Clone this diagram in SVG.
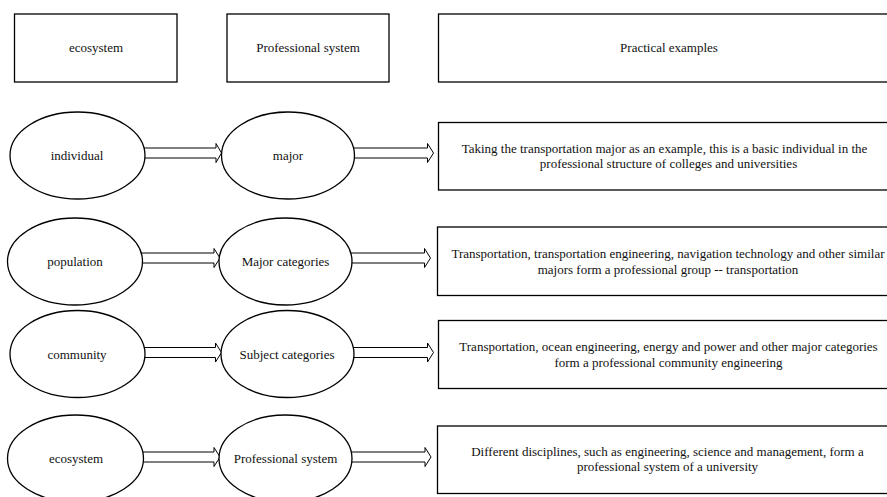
<svg xmlns="http://www.w3.org/2000/svg" width="887" height="497" viewBox="0 0 887 497">
<style>
  .box { fill: #fff; stroke: #000; stroke-width: 1.3; }
  .ell { fill: #fff; stroke: #000; stroke-width: 1.3; }
  .arr { fill: #fff; stroke: #000; stroke-width: 1; stroke-linejoin: miter; }
  text { font-family: 'Liberation Serif', 'Times New Roman', Times, serif; font-size: 13px; fill: #111; text-anchor: middle; }
</style>
<rect width="887" height="497" fill="#fff"/>
<g id="connectors">
  <polygon class="arr" points="135,148 216,148 216,143.5 221.5,153 216,162.5 216,158 135,158"/>
  <polygon class="arr" points="345,148 427.5,148 427.5,143.5 433.5,153 427.5,162.5 427.5,158 345,158"/>
  <polygon class="arr" points="133,253 214,253 214,248.5 220,258 214,267.5 214,263 133,263"/>
  <polygon class="arr" points="343,253 424.5,253 424.5,248.5 430.5,258 424.5,267.5 424.5,263 343,263"/>
  <polygon class="arr" points="135,347.5 215.5,347.5 215.5,343 221.5,352.5 215.5,362 215.5,357.5 135,357.5"/>
  <polygon class="arr" points="345,347.5 427.5,347.5 427.5,343 433.5,352.5 427.5,362 427.5,357.5 345,357.5"/>
  <polygon class="arr" points="133,452 214,452 214,447.5 220,457 214,466.5 214,462 133,462"/>
  <polygon class="arr" points="343,452 425,452 425,447.5 431,457 425,466.5 425,462 343,462"/>
</g>
<g font-family="Liberation Serif, serif">
<g id="h-ecosystem">
  <rect class="box" x="14.5" y="14" width="162.5" height="68"/>
  <text x="96" y="52">ecosystem</text>
</g>
<g id="h-professional">
  <rect class="box" x="227" y="14" width="162" height="68"/>
  <text x="308" y="52">Professional system</text>
</g>
<g id="h-practical">
  <rect class="box" x="438.5" y="14" width="470" height="68"/>
  <text x="669" y="52">Practical examples</text>
</g>
<g id="individual">
  <ellipse class="ell" cx="77.5" cy="155.5" rx="67.5" ry="43.5"/>
  <text x="77" y="160">individual</text>
</g>
<g id="major">
  <ellipse class="ell" cx="288" cy="155.5" rx="66.5" ry="43.5"/>
  <text x="288" y="160">major</text>
</g>
<g id="ex-major">
  <rect class="box" x="438.5" y="122.5" width="470" height="67.5"/>
  <text x="664.5" y="152.5">Taking the transportation major as an example, this is a basic individual in the</text>
  <text x="668.5" y="168">professional structure of colleges and universities</text>
</g>
<g id="population">
  <ellipse class="ell" cx="75" cy="261.5" rx="67.5" ry="43.5"/>
  <text x="75" y="266">population</text>
</g>
<g id="major-categories">
  <ellipse class="ell" cx="285.5" cy="261.5" rx="66.5" ry="43.5"/>
  <text x="285.5" y="266">Major categories</text>
</g>
<g id="ex-categories">
  <rect class="box" x="437.5" y="227" width="470" height="68.5"/>
  <text x="668" y="257.5">Transportation, transportation engineering, navigation technology and other similar</text>
  <text x="668" y="273.5">majors form a professional group -- transportation</text>
</g>
<g id="community">
  <ellipse class="ell" cx="77.5" cy="354" rx="67.5" ry="43.5"/>
  <text x="77" y="358.5">community</text>
</g>
<g id="subject-categories">
  <ellipse class="ell" cx="287.5" cy="354" rx="66.5" ry="43.5"/>
  <text x="287" y="358.5">Subject categories</text>
</g>
<g id="ex-subject">
  <rect class="box" x="438.5" y="320.5" width="470" height="68"/>
  <text x="668.5" y="351">Transportation, ocean engineering, energy and power and other major categories</text>
  <text x="668.5" y="366.5">form a professional community engineering</text>
</g>
<g id="ecosystem">
  <ellipse class="ell" cx="75.5" cy="458.5" rx="68" ry="43.5"/>
  <text x="76" y="463">ecosystem</text>
</g>
<g id="professional-system">
  <ellipse class="ell" cx="285.5" cy="458.5" rx="66.5" ry="43.5"/>
  <text x="285.5" y="463">Professional system</text>
</g>
<g id="ex-system">
  <rect class="box" x="437.5" y="426" width="470" height="67.5"/>
  <text x="667.5" y="456">Different disciplines, such as engineering, science and management, form a</text>
  <text x="667.5" y="471">professional system of a university</text>
</g>
</g>
</svg>
